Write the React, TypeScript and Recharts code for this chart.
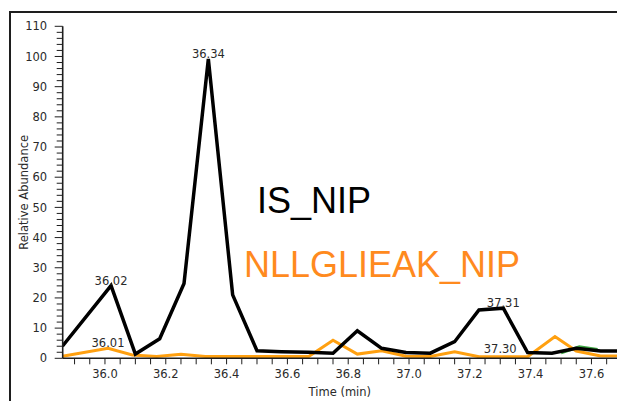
import React from 'react';
import { LineChart, Line, XAxis, YAxis, Legend, LabelList } from 'recharts';

// Retention times (min) and relative abundance (%) for each trace
const isTimes = [35.86, 36.02, 36.1, 36.18, 36.26, 36.34, 36.42, 36.5, 36.58, 36.67, 36.75, 36.83, 36.91, 36.99, 37.07, 37.15, 37.23, 37.31, 37.39, 37.47, 37.55, 37.63, 37.71];
const isAbundance = [4, 24.1, 1.4, 6.5, 24.8, 99.2, 21, 2.5, 2.2, 2.0, 1.7, 9.1, 3.3, 1.9, 1.7, 5.5, 16.0, 16.6, 1.9, 1.7, 3.3, 2.4, 2.4];

const peptideTimes = [35.86, 36.01, 36.09, 36.17, 36.25, 36.33, 36.41, 36.5, 36.58, 36.67, 36.75, 36.83, 36.91, 36.99, 37.07, 37.15, 37.23, 37.3, 37.39, 37.48, 37.55, 37.63, 37.71];
const peptideAbundance = [0.7, 3.3, 1.1, 0.6, 1.3, 0.6, 0.6, 0.6, 0.6, 0.6, 6.0, 1.4, 2.5, 0.7, 0.6, 2.2, 0.5, 0.5, 0.5, 7.2, 2.4, 0.8, 0.8];

const extraTimes = [37.5, 37.56, 37.62];
const extraAbundance = [1.8, 3.8, 2.9];

// Apex retention times annotated on each trace
const isPeaks = [36.02, 36.34, 37.31];
const peptidePeaks = [36.01, 37.3];

const seriesNames = ['IS_NIP', 'NLLGLIEAK_NIP'];
const nameColors: Record<string, string> = { IS_NIP: '#000000', NLLGLIEAK_NIP: '#FF8A1E' };

const xDomain = [35.861, 37.684];
const yDomain = [0, 110];

const xTicks = Array.from({ length: 36 }, (_, i) => +(35.9 + i * 0.05).toFixed(2));
const yTicks = Array.from({ length: 56 }, (_, i) => i * 2);

const toPoints = (ts: number[], vs: number[]) => ts.map((t, i) => ({ t, v: vs[i] }));
const isData = toPoints(isTimes, isAbundance);
const peptideData = toPoints(peptideTimes, peptideAbundance);
const extraData = toPoints(extraTimes, extraAbundance);

const SMALL_FONT = '"DejaVu Sans", Verdana, sans-serif';
const BIG_FONT = '"Liberation Sans", Arial, sans-serif';
const INK = '#1e1e1e';

const YTick = (props: any) => {
  const { x, y, payload } = props;
  const v = payload.value;
  const major = v % 10 === 0;
  return (
    <g>
      <line x1={x - (major ? 8 : 6)} x2={x} y1={y} y2={y} stroke={INK} strokeWidth={1} />
      {major && (
        <text x={x - 15.5} y={y} dy="0.36em" textAnchor="end" fontFamily={SMALL_FONT} fontSize={11.5} fill="#2a2a2a">
          {v}
        </text>
      )}
    </g>
  );
};

const XTick = (props: any) => {
  const { x, y, payload } = props;
  const v = payload.value;
  const major = Math.round(v * 100) % 20 === 0;
  return (
    <g>
      <line x1={x} x2={x} y1={y} y2={y + 6} stroke={INK} strokeWidth={1} />
      {major && (
        <text x={x} y={y + 20} textAnchor="middle" fontFamily={SMALL_FONT} fontSize={11.5} fill="#2a2a2a">
          {v.toFixed(1)}
        </text>
      )}
    </g>
  );
};

const peakLabel = (peaks: number[]) => (props: any) => {
  const { x, y, value } = props;
  if (!peaks.some((p) => Math.abs(p - value) < 1e-6)) return null;
  return (
    <text x={x} y={Math.min(y - 1, 353)} textAnchor="middle" fontFamily={SMALL_FONT} fontSize={11.5} fill="#2a2a2a">
      {Number(value).toFixed(2)}
    </text>
  );
};

const SeriesNames = (props: any) => {
  const payload: any[] = props.payload || [];
  const offsets: Record<string, number> = { IS_NIP: 13, NLLGLIEAK_NIP: 0 };
  return (
    <div style={{ position: 'relative', width: 300, height: 110 }}>
      {seriesNames.map((name, i) => {
        const entry = payload.find((p) => p.value === name);
        if (!entry) return null;
        return (
          <div
            key={name}
            style={{
              position: 'absolute',
              left: offsets[name],
              top: i * 64,
              fontFamily: BIG_FONT,
              fontSize: 36,
              lineHeight: '36px',
              whiteSpace: 'nowrap',
              color: nameColors[name],
            }}
          >
            {name}
          </div>
        );
      })}
    </div>
  );
};

export default function App() {
  return (
    <div style={{ position: 'fixed', left: 0, top: 0, width: 617, height: 401, overflow: 'hidden', background: '#fff' }}>
      <div
        style={{
          position: 'absolute',
          left: 9,
          top: 11,
          width: 700,
          height: 500,
          borderTop: `2px solid ${INK}`,
          borderLeft: `2px solid ${INK}`,
        }}
      />
      <div style={{ position: 'absolute', left: 0, top: 0 }}>
        <LineChart width={617} height={401} margin={{ top: 26.3, right: 0, bottom: 0, left: 0 }}>
          <XAxis
            type="number"
            dataKey="t"
            domain={xDomain}
            allowDataOverflow
            ticks={xTicks}
            interval={0}
            height={42.7}
            tickSize={0}
            tickMargin={0}
            tickLine={false}
            tick={<XTick />}
            axisLine={{ stroke: INK, strokeWidth: 1.6 }}
            label={(p: any) => (
              <text
                x={p.viewBox.x + p.viewBox.width / 2}
                y={p.viewBox.y + 38}
                textAnchor="middle"
                fontFamily={SMALL_FONT}
                fontSize={11.5}
                fill="#2a2a2a"
              >
                Time (min)
              </text>
            )}
          />
          <YAxis
            type="number"
            domain={yDomain}
            allowDataOverflow
            ticks={yTicks}
            interval={0}
            width={62.7}
            tickSize={0}
            tickMargin={0}
            tickLine={false}
            tick={<YTick />}
            axisLine={{ stroke: INK, strokeWidth: 1.6 }}
            label={(p: any) => {
              const cy = p.viewBox.y + p.viewBox.height / 2;
              return (
                <text
                  x={28}
                  y={cy}
                  transform={`rotate(-90, 28, ${cy})`}
                  textAnchor="middle"
                  fontFamily={SMALL_FONT}
                  fontSize={11.5}
                  fill="#2a2a2a"
                >
                  Relative Abundance
                </text>
              );
            }}
          />
          <Legend
            layout="vertical"
            align="center"
            verticalAlign="middle"
            content={<SeriesNames />}
            wrapperStyle={{ left: 244, top: 182.5, width: 'auto', height: 'auto' }}
          />
          <Line
            data={extraData}
            dataKey="v"
            stroke="#3DA842"
            strokeWidth={3}
            dot={false}
            activeDot={false}
            legendType="none"
            isAnimationActive={false}
          />
          <Line
            data={peptideData}
            dataKey="v"
            name="NLLGLIEAK_NIP"
            stroke="#FFA010"
            strokeWidth={3}
            dot={false}
            activeDot={false}
            isAnimationActive={false}
          >
            <LabelList dataKey="t" content={peakLabel(peptidePeaks)} />
          </Line>
          <Line
            data={isData}
            dataKey="v"
            name="IS_NIP"
            stroke="#000000"
            strokeWidth={3.5}
            dot={false}
            activeDot={false}
            isAnimationActive={false}
          >
            <LabelList dataKey="t" content={peakLabel(isPeaks)} />
          </Line>
        </LineChart>
      </div>
    </div>
  );
}
